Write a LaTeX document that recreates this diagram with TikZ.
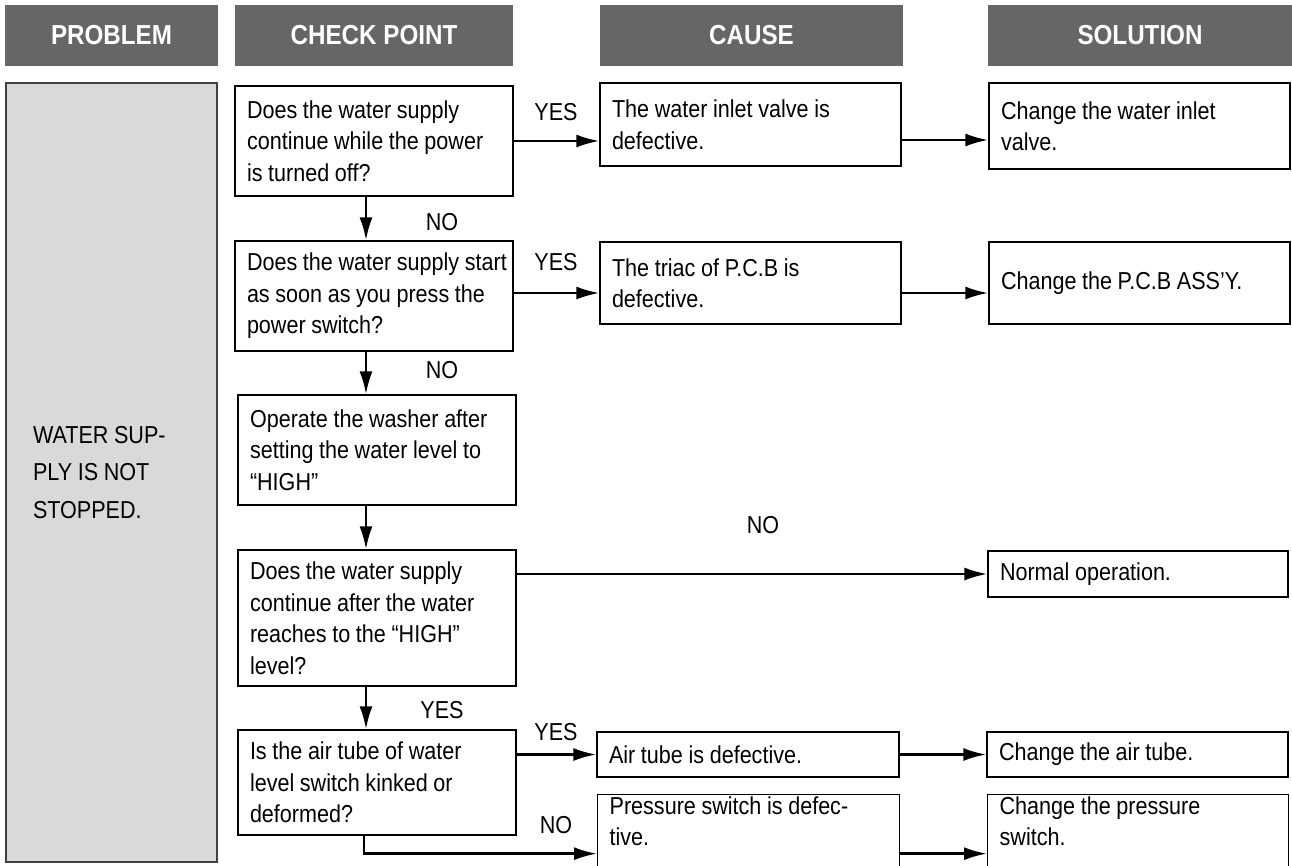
\documentclass[tikz,border=0pt]{standalone}
\usepackage{fontspec}
\setmainfont{Liberation Sans}[FakeStretch=0.88]
\usetikzlibrary{arrows.meta,calc}
\definecolor{hdrc}{HTML}{666666}
\definecolor{probc}{HTML}{D9D9D9}
\begin{document}
\begin{tikzpicture}[x=1pt,y=-1pt,
  txt/.style={font=\fontsize{24.5}{31.5}\selectfont, execute at begin node={\spaceskip=0.23em\relax}},
  hdr/.style={fill=hdrc, text=white, font=\fontsize{27.5}{30}\selectfont\bfseries, inner sep=0pt, minimum height=61pt},
  box/.style={draw=black, line width=1.3pt, fill=white, align=left, inner xsep=12pt, inner ysep=0pt, txt},
  arr/.style={line width=2.6pt, -{Latex[length=23pt,width=13pt]}},
  lbl/.style={txt, inner sep=0pt}]
\useasboundingbox (0,0) rectangle (1292,865);

% headers
\node[hdr, minimum width=213pt] (hP) at (111.5,35.5) {PROBLEM};
\node[hdr, minimum width=278pt] (hC) at (374,35.5) {CHECK POINT};
\node[hdr, minimum width=303pt] (hA) at (751.5,35.5) {CAUSE};
\node[hdr, minimum width=304pt] (hS) at (1140,35.5) {SOLUTION};

% problem
\node[draw=black!75, fill=probc, line width=1.5pt, minimum width=211pt, minimum height=779pt,
      align=left, inner xsep=27pt, text width=157pt, font=\fontsize{24.5}{37.5}\selectfont,
      execute at begin node={\spaceskip=0.23em\relax}] (pb) at (111.5,472.5)
      {WATER SUP-\\PLY IS NOT\\STOPPED.};

% check points
\node[box, minimum width=278pt, text width=254pt, minimum height=110pt] (c1) at (374,141)
  {\mbox{Does the water supply}\\\mbox{continue while the power}\\is turned off?};
\node[box, minimum width=278pt, text width=254pt, minimum height=110pt] (c2) at (374,296)
  {\mbox{Does the water supply start}\\\mbox{as soon as you press the}\\power switch?};
\node[box, minimum width=278pt, text width=254pt, minimum height=110pt] (c3) at (377,450)
  {\mbox{Operate the washer after}\\\mbox{setting the water level to}\\“HIGH”};
\node[box, minimum width=278pt, text width=254pt, minimum height=136pt] (c4) at (377,618)
  {\mbox{Does the water supply}\\\mbox{continue after the water}\\\mbox{reaches to the “HIGH”}\\level?};
\node[box, minimum width=278pt, text width=254pt, minimum height=105pt] (c5) at (377,782.5)
  {\mbox{Is the air tube of water}\\\mbox{level switch kinked or}\\deformed?};

% causes
\node[box, minimum width=301pt, text width=277pt, minimum height=83pt] (a1) at (750.5,124.5)
  {The water inlet valve is\\defective.};
\node[box, minimum width=301pt, text width=277pt, minimum height=82pt] (a2) at (750.5,283)
  {The triac of P.C.B is\\defective.};
\node[box, minimum width=302pt, text width=278pt, minimum height=45pt] (a5) at (748,754.5)
  {Air tube is defective.};
\node[box, anchor=north west, minimum width=302pt, text width=278pt, inner ysep=2pt,
      text height=17.5pt, text depth=50.5pt] (a6) at (597,794)
  {\mbox{Pressure switch is defec-}\\tive.};

% solutions
\node[box, minimum width=301pt, text width=277pt, minimum height=86pt] (s1) at (1139.5,126)
  {Change the water inlet\\valve.};
\node[box, minimum width=301pt, text width=277pt, minimum height=82pt] (s2) at (1139.5,283)
  {Change the P.C.B ASS’Y.};
\node[box, minimum width=300pt, text width=276pt, minimum height=46pt] (s4) at (1138,574)
  {Normal operation.};
\node[box, minimum width=301pt, text width=277pt, minimum height=45pt] (s5) at (1137.5,754.5)
  {Change the air tube.};
\node[box, anchor=north west, minimum width=301pt, text width=277pt, inner ysep=2pt,
      text height=17.5pt, text depth=50.5pt] (s6) at (987,794)
  {Change the pressure\\switch.};

% connectors
\draw[arr] (c1.east) -- (c1.east -| a1.west);
\draw[arr] ([yshift=-15.5pt]a1.east) -- ([yshift=-15.5pt]a1.east -| s1.west);
\draw[arr] ([yshift=3pt]c2.east) -- ([yshift=3pt]c2.east -| a2.west);
\draw[arr] ([yshift=-10pt]a2.east) -- ([yshift=-10pt]a2.east -| s2.west);
\draw[arr] ([xshift=-8pt]c1.south) -- ([xshift=-8pt]c2.north);
\draw[arr] ([xshift=-8pt]c2.south) -- ([xshift=-8pt]c2.south |- c3.north);
\draw[arr] ([xshift=-11pt]c3.south) -- ([xshift=-11pt]c4.north);
\draw[arr] (c4.east |- s4.west) -- (s4.west);
\draw[arr] ([xshift=-11pt]c4.south) -- ([xshift=-11pt]c5.north);
\draw[arr] (c5.east |- a5.west) -- (a5.west);
\draw[arr] (a5.east) -- (s5.west);
\draw[arr] ([xshift=-13pt]c5.south) |- ([yshift=-23pt]a6.west);
\draw[arr] ([yshift=-23pt]a6.east) -- ([yshift=-23pt]a6.east -| s6.west);

% labels
\node[lbl] (y1) at (556,112) {YES};
\node[lbl] (n1) at (442,222) {NO};
\node[lbl] (y2) at (556,262) {YES};
\node[lbl] (n2) at (442,370) {NO};
\node[lbl] (n3) at (763,525) {NO};
\node[lbl] (y3) at (442,710) {YES};
\node[lbl] (y4) at (556,732) {YES};
\node[lbl] (n4) at (556,825) {NO};
\end{tikzpicture}
\end{document}
